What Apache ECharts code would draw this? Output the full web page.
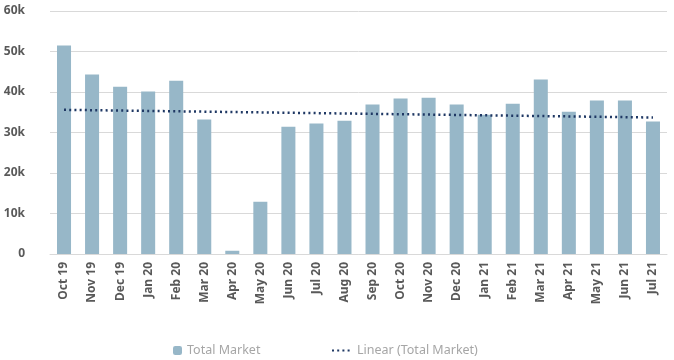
<!DOCTYPE html>
<html><head><meta charset="utf-8">
<script src="https://cdn.jsdelivr.net/npm/echarts@6/dist/echarts.min.js"></script>
<style>html,body{margin:0;padding:0;background:#fff}#c{width:674px;height:360px}</style>
</head><body><div id="c"></div>
<script>
const categories = ['Oct 19','Nov 19','Dec 19','Jan 20','Feb 20','Mar 20','Apr 20','May 20','Jun 20','Jul 20','Aug 20','Sep 20','Oct 20','Nov 20','Dec 20','Jan 21','Feb 21','Mar 21','Apr 21','May 21','Jun 21','Jul 21'];
const totalMarket = [51500,44300,41300,40100,42800,33200,800,12900,31400,32200,32900,36900,38400,38600,36900,34400,37100,43100,35100,37900,37900,32700];
const trendStart = 35600;
const trendEnd = 33700;
const yTicks = [0,10000,20000,30000,40000,50000,60000];

const trend = categories.map((c,i)=> i===0 ? trendStart : (i===categories.length-1 ? trendEnd : null));
const chart = echarts.init(document.getElementById('c'));
const font = 'Noto Sans';
chart.setOption({
  animation:false,
  textStyle:{fontFamily:font},
  grid:{left:50,right:7,top:11,bottom:106,containLabel:false},
  legend:[
    {data:['Total Market'],left:168,top:339,itemWidth:9,itemHeight:9,itemGap:0,
     textStyle:{color:'#a6a6a6',fontSize:12.5,fontFamily:font}},
    {data:['Linear (Total Market)'],left:326,top:339,itemWidth:20,itemHeight:9,
     itemStyle:{opacity:0},
     textStyle:{color:'#a6a6a6',fontSize:12.5,fontFamily:font}}
  ],
  xAxis:{type:'category',data:categories,
    axisLine:{show:true,lineStyle:{color:'#d9d9d9',width:1}},
    axisTick:{show:false},
    axisLabel:{rotate:90,interval:0,color:'#595959',fontSize:12,fontWeight:'bold',margin:8,fontFamily:font}},
  yAxis:{type:'value',min:0,max:60000,interval:10000,
    axisLine:{show:false},axisTick:{show:false},
    splitLine:{lineStyle:{color:'#d9d9d9',width:1}},
    axisLabel:{color:'#595959',fontSize:12,fontWeight:'bold',margin:25,
      formatter:v=> yTicks.indexOf(v)>=0 ? (v===0?'0':(v/1000)+'k') : ''}},
  series:[
    {name:'Total Market',type:'bar',data:totalMarket,barWidth:'50%',
     itemStyle:{color:'#97b7c8'}},
    {name:'Linear (Total Market)',type:'line',data:trend,connectNulls:true,
     symbol:'none',z:5,
     lineStyle:{color:'#1f3864',width:2.5,type:[2,3.2]},
     itemStyle:{color:'#1f3864'}}
  ]
});
</script></body></html>
